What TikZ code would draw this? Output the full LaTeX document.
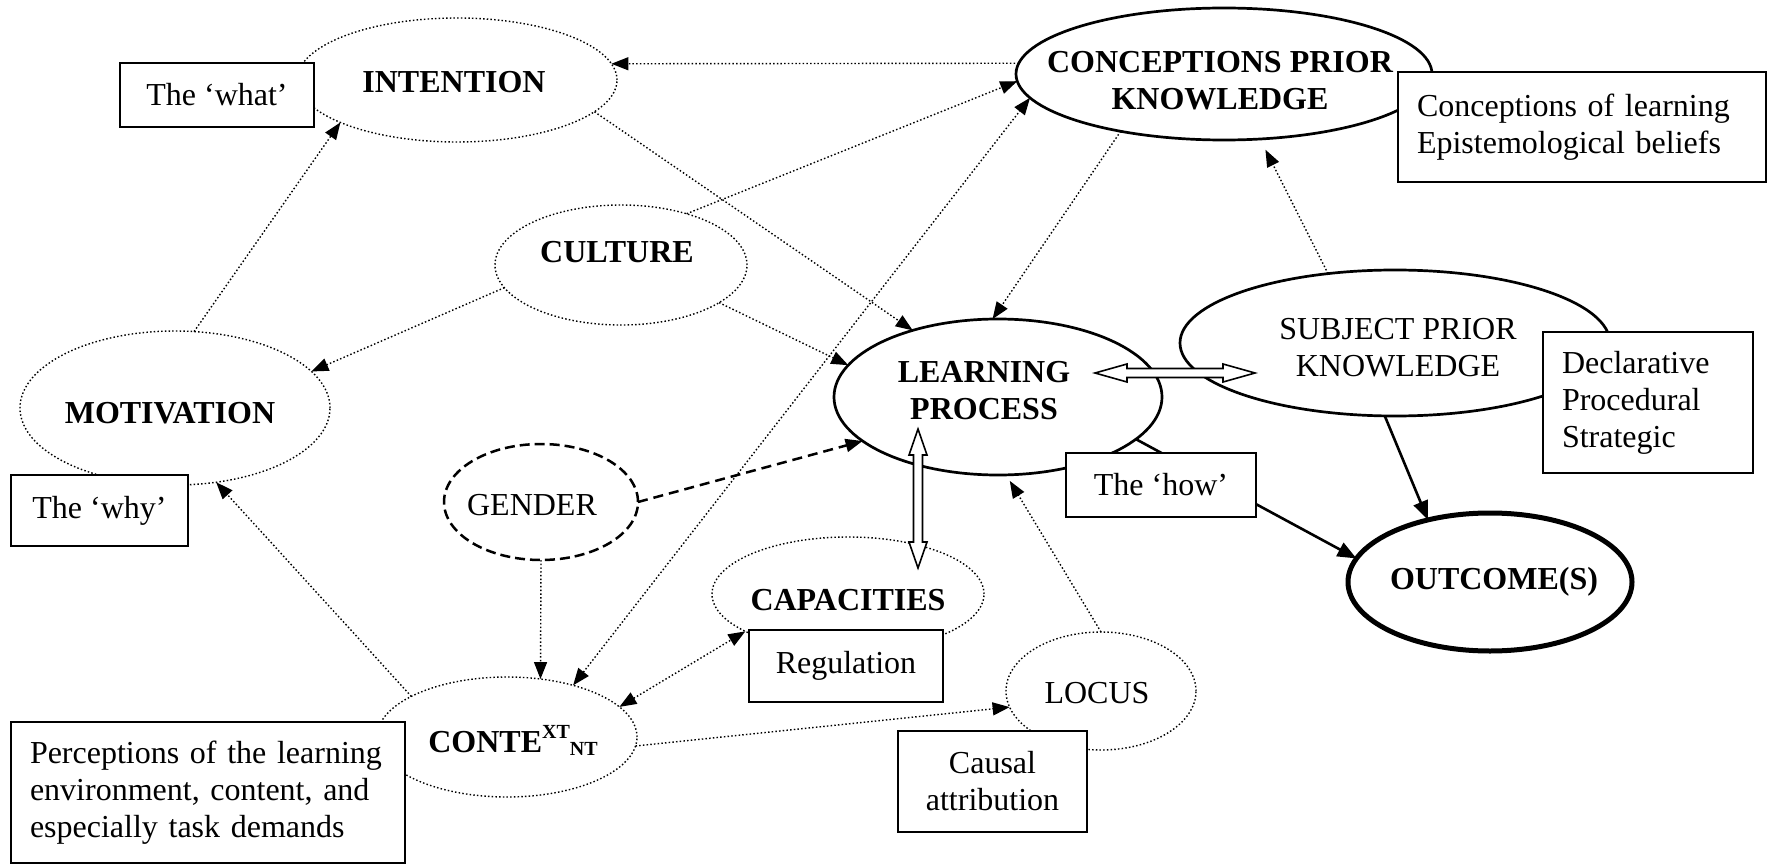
\documentclass[tikz,border=0pt]{standalone}
\usepackage{fontspec}
\setmainfont{Liberation Serif}
\usetikzlibrary{arrows.meta,shapes.geometric,calc}
\begin{document}
\begin{tikzpicture}[x=1pt,y=-1pt,
  every node/.style={font=\fontsize{32}{37}\selectfont},
  ell/.style={ellipse, inner sep=0pt, outer sep=0pt},
  dotln/.style={line width=1.4pt, dash pattern=on 1.5pt off 2.2pt},
  dotell/.style={ell, draw, dotln},
  solell/.style={ell, draw, line width=2.7pt},
  dashell/.style={ell, draw, line width=2.5pt, dash pattern=on 10pt off 5pt},
  ttl/.style={inner sep=0pt, align=center, font=\fontsize{32}{37}\selectfont\bfseries},
  rtl/.style={inner sep=0pt, align=center, font=\fontsize{32}{37}\selectfont},
  txtbox/.style={draw, line width=2.2pt, fill=white, inner sep=0pt, align=center},
  lbox/.style={draw, line width=2.2pt, fill=white, inner ysep=0pt, inner xsep=19pt, align=left},
  arrowone/.style={-{Triangle[length=17pt,width=13pt]}},
  arrowtwo/.style={{Triangle[length=17pt,width=13pt]}-{Triangle[length=17pt,width=13pt]}},
  darr/.style={dotln, arrowone},
  darrb/.style={dotln, arrowtwo},
  dashln/.style={line width=2.5pt, dash pattern=on 10pt off 6pt, arrowone},
  solarr/.style={line width=2.6pt, -{Triangle[length=19pt,width=15pt]}},
  hollow/.style={draw, fill=white, line width=1.6pt, line join=miter}
]
\useasboundingbox (0,0) rectangle (1773,864);

% ellipses
\node[dotell, minimum width=320pt, minimum height=124pt] (int) at (457,80) {};
\node[solell, minimum width=416pt, minimum height=132pt] (conc) at (1224,74) {};
\node[dotell, minimum width=252pt, minimum height=120pt] (cult) at (621,265) {};
\node[dotell, minimum width=310pt, minimum height=154pt] (mot) at (175,408) {};
\node[solell, minimum width=328pt, minimum height=156pt] (lp) at (998,397) {};
\node[solell, minimum width=430pt, minimum height=146pt] (sp) at (1395,343) {};
\node[ell, draw, line width=5pt, minimum width=284pt, minimum height=138pt] (outc) at (1490,582) {};
\node[dashell, minimum width=194pt, minimum height=116pt] (gen) at (541,502) {};
\node[dotell, minimum width=272pt, minimum height=114pt] (cap) at (848,594) {};
\node[dotell, minimum width=190pt, minimum height=118pt] (loc) at (1101,691) {};
\node[dotell, minimum width=260pt, minimum height=120pt] (ctx) at (507,737) {};

% connectors
\draw[darr] (conc.177) -- (int.6);
\draw[darr] (cult.38) -- (conc.-178);
\draw[darrb] (ctx.38) -- (conc.-173);
\draw[darr] (conc.-151) -- (lp.94);
\draw[darr, shorten >=12pt] (sp.134) -- (conc.-61);
\draw[darr] (int.-13.5) -- (lp.142);
\draw[darr] (cult.-21) -- (lp.168);
\draw[darr] (cult.-169) -- (mot.15.5);
\draw[darr] (mot.76) -- (int.-160);
\draw[darr] (ctx.157) -- (mot.-61);
\draw[dashln] (gen.0) -- (lp.-162.6);
\draw[darr] (gen.-90) -- (ctx.60);
\draw[darrb] (ctx.15.6) -- (cap.-160);
\draw[darr] (ctx.-4.4) -- (loc.-170);
\draw[darr, shorten >=7pt] (loc.90) -- (lp.-84);
\draw[solarr] (lp.-17) -- (outc.170);
\draw[solarr] (sp.-98.5) -- (outc.135);

% hollow double arrows
\coordinate (ha) at (1095,373);
\coordinate (hb) at (1255,373);
\draw[hollow] (ha) -- ($(ha)+(32,-9)$) -- ($(ha)+(32,-4.5)$) -- ($(hb)+(-32,-4.5)$) -- ($(hb)+(-32,-9)$) -- (hb)
  -- ($(hb)+(-32,9)$) -- ($(hb)+(-32,4.5)$) -- ($(ha)+(32,4.5)$) -- ($(ha)+(32,9)$) -- cycle;
\coordinate (va) at (918,429);
\coordinate (vb) at (918,568);
\draw[hollow] (va) -- ($(va)+(-9,26)$) -- ($(va)+(-4.5,26)$) -- ($(vb)+(-4.5,-26)$) -- ($(vb)+(-9,-26)$) -- (vb)
  -- ($(vb)+(9,-26)$) -- ($(vb)+(4.5,-26)$) -- ($(va)+(4.5,26)$) -- ($(va)+(9,26)$) -- cycle;

% boxes
\node[txtbox, minimum width=194pt, minimum height=64pt] (bwhat) at (217,95) {The ‘what’};
\node[txtbox, minimum width=177pt, minimum height=71pt] (bwhy) at (99.5,510.5) {The ‘why’};
\node[lbox, text width=330pt, minimum height=110pt] (bconc) at (1582,127) {Conceptions of learning\\Epistemological beliefs};
\node[lbox, text width=172pt, minimum height=141pt] (bdecl) at (1648,402.5) {Declarative\\Procedural\\Strategic};
\node[txtbox, minimum width=190pt, minimum height=64pt] (bhow) at (1161,485) {The ‘how’};
\node[txtbox, minimum width=194pt, minimum height=72pt] (breg) at (846,666) {Regulation};
\node[txtbox, minimum width=189pt, minimum height=101pt] (bcaus) at (992.5,781.5) {Causal\\attribution};
\node[lbox, text width=356pt, minimum height=141pt] (bperc) at (208,792.5) {Perceptions of the learning\\environment, content, and\\especially task demands};

% titles
\node[ttl] (tint) at (454,82) {INTENTION};
\node[ttl] (tconc) at (1220,81) {CONCEPTIONS PRIOR\\KNOWLEDGE};
\node[ttl] (tcult) at (617,252) {CULTURE};
\node[ttl] (tmot) at (170,413) {MOTIVATION};
\node[ttl] (tlp) at (984,391) {LEARNING\\PROCESS};
\node[rtl] (tsp) at (1398,348) {SUBJECT PRIOR\\KNOWLEDGE};
\node[rtl] (tgen) at (532,505) {GENDER};
\node[ttl] (tout) at (1494,582) {OUTCOME(S)};
\node[ttl] (tcap) at (848,600) {CAPACITIES};
\node[rtl] (tloc) at (1097,693) {LOCUS};
\node[ttl] (tctx) at (513,740) {CONTE\raisebox{14pt}{\fontsize{20}{20}\selectfont XT}\raisebox{-3pt}{\fontsize{20}{20}\selectfont NT}};
\end{tikzpicture}
\end{document}
